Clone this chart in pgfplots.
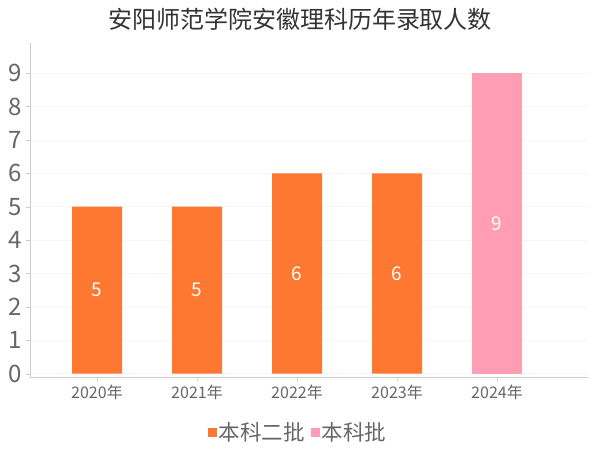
\documentclass[border=0pt]{standalone}
\usepackage{pgfplots}
\pgfplotsset{compat=1.18}
\usepackage{fontspec}
\setmainfont{Noto Sans CJK SC}
\definecolor{orng}{HTML}{FF7832}
\definecolor{pnk}{HTML}{FF9DB5}
\definecolor{txt}{HTML}{666666}
\definecolor{axisgray}{HTML}{CCCCCC}

\begin{document}
\begin{tikzpicture}
\path[use as bounding box] (-30pt,-73pt) rectangle (570pt,377pt);
\begin{axis}[
  anchor=south west, at={(0pt,0pt)},
  scale only axis, width=558pt, height=334pt,
  ybar=0pt, bar width=50pt,
  xmin=-0.67, xmax=4.91, ymin=-0.1, ymax=9.9,
  xtick={0,1,2,3,4},
  xticklabels={2020年,2021年,2022年,2023年,2024年},
  ytick={0,...,9},
  axis x line*=bottom, axis y line*=left,
  axis line style={draw=axisgray, -},
  tick align=outside, major tick length=4pt,
  tick style={draw=axisgray},
  ymajorgrids, major grid style={draw=black!4},
  y tick label style={font=\fontsize{24}{24}\selectfont, text=txt, xshift=-1pt},
  x tick label style={font=\fontsize{16}{16}\selectfont, text=txt},
  /pgf/number format/assume math mode=true,
  visualization depends on={y/2 \as \half},
  nodes near coords,
  every node near coord/.append style={anchor=center, text=white,
    font=\fontsize{19}{19}\selectfont,
    shift={(axis direction cs:0,-\half)}},
  legend style={at={(0.48,-0.165)}, anchor=center, draw=none, fill=none,
    legend columns=2, font=\fontsize{21.5}{21.5}\selectfont, text=txt,
    /tikz/every even column/.append style={column sep=4pt}},
  legend image code/.code={\fill[#1] (0pt,-4.5pt) rectangle (9pt,4.5pt);},
]
\addplot[fill=orng, draw=none, bar shift=0pt] coordinates {(0,5) (1,5) (2,6) (3,6)};
\addplot[fill=pnk, draw=none, bar shift=0pt] coordinates {(4,9)};
\legend{本科二批,本科批}
\end{axis}
\node[text=black!80] at (270pt,358pt) {\fontsize{24}{24}\selectfont 安阳师范学院安徽理科历年录取人数};
\end{tikzpicture}
\end{document}
